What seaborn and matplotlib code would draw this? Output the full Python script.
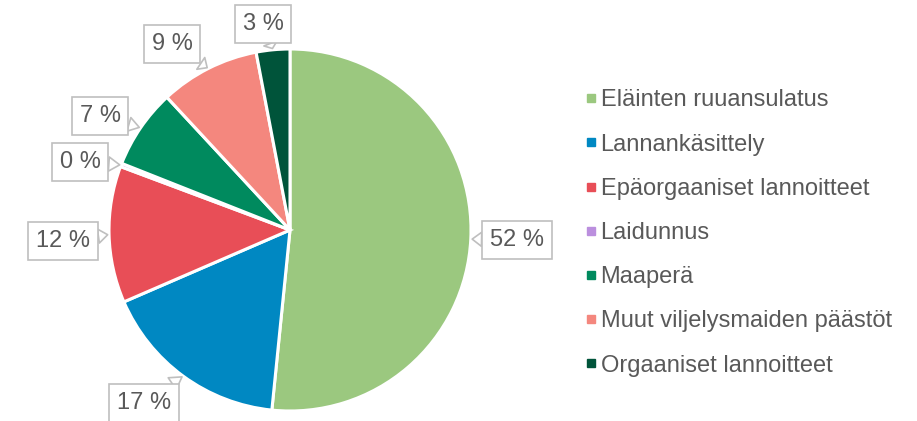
import numpy as np
import matplotlib
matplotlib.use("Agg")
import matplotlib.pyplot as plt
from matplotlib.lines import Line2D
import seaborn as sns

# Emission shares (%), clockwise from 12 o'clock
categories = [
    "Eläinten ruuansulatus",
    "Lannankäsittely",
    "Epäorgaaniset lannoitteet",
    "Laidunnus",
    "Maaperä",
    "Muut viljelysmaiden päästöt",
    "Orgaaniset lannoitteet",
]
shares = [51.6, 16.9, 12.2, 0.3, 7.1, 8.9, 3.0]
colors = ["#9BC87F", "#0088C2", "#E84E57", "#BB8FDE", "#008A5E", "#F4877E", "#00543A"]

# label box centres (figure pixels, from top-left)
label_pos = [(517, 240), (144, 403), (63, 241), (80, 162), (100, 116), (172, 44), (263, 24)]

W, H = 917, 421
cx, cy, R = 290, 230, 181
text_col = "#595959"
fs = 17

sns.set_theme(style="white")
plt.rcParams["font.family"] = ["Liberation Sans", "DejaVu Sans"]

fig = plt.figure(figsize=(W / 100, H / 100), dpi=100)
ax = fig.add_axes([0, 0, 1, 1])

wedges, _ = ax.pie(
    shares,
    colors=colors,
    startangle=90,
    counterclock=False,
    center=(cx, H - cy),
    radius=R,
    wedgeprops=dict(edgecolor="white", linewidth=2.2),
)
ax.set_xlim(0, W)
ax.set_ylim(0, H)
ax.set_aspect("equal")
ax.axis("off")

total = sum(shares)
for w, val, (lx, ly) in zip(wedges, shares, label_pos):
    mid = np.deg2rad((w.theta1 + w.theta2) / 2)
    px = cx + R * np.cos(mid)
    py = (H - cy) + R * np.sin(mid)
    ax.annotate(
        f"{round(val / total * 100):.0f} %",
        xy=(px, py),
        xytext=(lx, H - ly),
        ha="center", va="center",
        fontsize=fs, color=text_col,
        bbox=dict(boxstyle="square,pad=0.33", fc="white", ec="#BFBFBF", lw=1.2),
        arrowprops=dict(arrowstyle="wedge,tail_width=0.6,shrink_factor=0.5",
                        fc="white", ec="#BFBFBF", lw=1.2, shrinkA=0, shrinkB=1),
    )

handles = [Line2D([], [], marker="s", linestyle="none", markersize=6,
                  markerfacecolor=c, markeredgecolor=c) for c in colors]
leg = fig.legend(
    handles, categories,
    loc="center left",
    bbox_to_anchor=(584 / W, 1 - 233 / H),
    frameon=False,
    fontsize=fs,
    handlelength=0.6,
    handletextpad=0.1,
    labelspacing=0.94,
    borderpad=0,
    borderaxespad=0,
)
for t in leg.get_texts():
    t.set_color(text_col)

fig.savefig("out.png", dpi=100)
